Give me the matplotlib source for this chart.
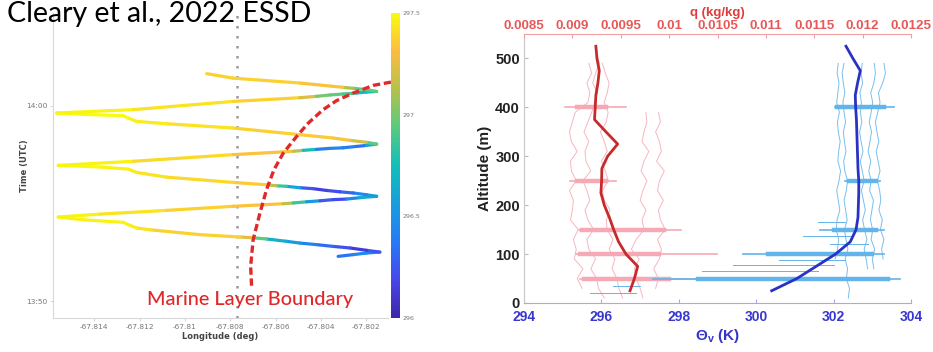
import numpy as np
import matplotlib
matplotlib.use('Agg')
import matplotlib.pyplot as plt
from matplotlib.collections import LineCollection
from matplotlib.colors import LinearSegmentedColormap

plt.rcParams['mathtext.fontset'] = 'custom'
plt.rcParams['mathtext.rm'] = 'Liberation Sans'
plt.rcParams['mathtext.bf'] = 'Liberation Sans:bold'
plt.rcParams['mathtext.it'] = 'Liberation Sans:italic'

# ---------------- left panel: flight track (lon vs time, coloured by temperature) ----------------
track_lon = [-67.80324, -67.80257, -67.80199, -67.80140, -67.80199, -67.80272, -67.80346, -67.80419,
             -67.80493, -67.80552, -67.80640, -67.80699, -67.80757, -67.80934, -67.81154, -67.81213,
             -67.81250, -67.81272, -67.81449, -67.81559,
             -67.81375, -67.81081, -67.80787, -67.80566, -67.80522, -67.80463, -67.80404, -67.80346,
             -67.80287, -67.80228, -67.80154,
             -67.80199, -67.80257, -67.80316, -67.80375, -67.80434, -67.80493, -67.80552, -67.80596,
             -67.80640, -67.80787, -67.81081, -67.81213, -67.81250, -67.81375, -67.81559,
             -67.81228, -67.80787, -67.80522, -67.80478, -67.80419, -67.80360, -67.80302, -67.80243,
             -67.80199, -67.80154,
             -67.80199, -67.80272, -67.80346, -67.80493, -67.80787, -67.81081, -67.81213, -67.81250,
             -67.81272, -67.81449, -67.81566,
             -67.81228, -67.80787, -67.80493, -67.80419, -67.80360, -67.80302, -67.80243, -67.80199,
             -67.80154,
             -67.80199, -67.80257, -67.80302, -67.80493, -67.80787, -67.80904]
# minutes after 13:00
track_time = [52.30, 52.39, 52.47, 52.52, 52.61, 52.73, 52.81, 52.90,
              52.98, 53.07, 53.19, 53.25, 53.29, 53.41, 53.66, 53.75,
              53.92, 54.04, 54.17, 54.31,
              54.46, 54.65, 54.86, 54.99, 55.03, 55.09, 55.14, 55.20,
              55.23, 55.30, 55.37,
              55.45, 55.54, 55.60, 55.67, 55.76, 55.81, 55.88, 55.91,
              55.96, 56.08, 56.35, 56.59, 56.76, 56.87, 56.95,
              57.16, 57.50, 57.67, 57.72, 57.77, 57.82, 57.85, 57.92,
              57.97, 58.04,
              58.13, 58.23, 58.35, 58.52, 58.86, 59.08, 59.20, 59.37,
              59.49, 59.56, 59.63,
              59.80, 60.22, 60.41, 60.48, 60.55, 60.60, 60.65, 60.70,
              60.73,
              60.82, 60.89, 60.94, 61.16, 61.41, 61.64]
track_temp = [296.4, 296.3, 296.6, 296.3, 296.2, 296.05, 296.4, 296.25,
              296.6, 296.5, 296.8, 297.1, 297.4, 297.35, 297.4, 297.45,
              297.45, 297.5, 297.45, 297.5,
              297.45, 297.4, 297.35, 297.3, 297.0, 296.7, 296.4, 296.1,
              296.3, 296.6, 296.7,
              296.4, 296.5, 296.1, 296.3, 296.0, 296.5, 296.7, 297.0,
              297.3, 297.4, 297.4, 297.45, 297.45, 297.5, 297.5,
              297.45, 297.35, 297.3, 297.0, 296.5, 296.3, 296.6, 296.2,
              296.5, 296.8,
              297.1, 297.3, 297.35, 297.35, 297.4, 297.45, 297.45, 297.5,
              297.5, 297.5, 297.5,
              297.45, 297.4, 297.35, 297.1, 296.9, 297.0, 296.8, 296.6,
              296.9,
              297.0, 296.9, 297.3, 297.35, 297.4, 297.35]

boundary_lon = [-67.80706, -67.80710, -67.80699, -67.80669, -67.80640, -67.80607, -67.80566,
                -67.80507, -67.80456, -67.80390, -67.80331, -67.80257, -67.80169, -67.80052]
boundary_time = [50.80, 51.79, 53.15, 54.51, 55.71, 56.73, 57.58,
                 58.43, 59.11, 59.80, 60.26, 60.65, 61.04, 61.29]
divider_lon = -67.8077

lon_ticks = [-67.814, -67.812, -67.810, -67.808, -67.806, -67.804, -67.802]
lon_labels = ['-67.814', '-67.812', '-67.81', '-67.808', '-67.806', '-67.804', '-67.802']
time_ticks = [50, 60]
time_labels = ['13:50', '14:00']
cbar_ticks = [296, 296.5, 297, 297.5]
cbar_labels = ['296', '296.5', '297', '297.5']

# ---------------- right panel: profiles ----------------
mean_alt = [25, 50, 75, 100, 125, 150, 175, 200, 225, 250, 275, 300, 325, 350, 375, 400, 425, 450, 475, 500, 525]
mean_q = [0.009596, 0.009641, 0.009675, 0.009554, 0.009478, 0.009427, 0.009382, 0.009330, 0.009295, 0.009302,
          0.009305, 0.009364, 0.009468, 0.009347, 0.009229, 0.009236, 0.009243, 0.009264, 0.009278, 0.009254, 0.009243]
mean_theta = [300.40, 301.05, 301.55, 302.05, 302.43, 302.58, 302.63, 302.64, 302.65, 302.65, 302.63,
              302.62, 302.61, 302.60, 302.59, 302.57, 302.56, 302.62, 302.69, 302.50, 302.32]

nan = np.nan
raw_alt = [10, 30, 50, 70, 90, 110, 130, 150, 170, 190, 210, 230, 250,
           270, 290, 310, 330, 350, 370, 390, 410, 430, 450, 470, 490, 510]
# specific humidity of single flights, g/kg
pink_a = [nan, 9.10, 9.05, 9.11, 9.02, 9.04, 9.01, 9.06, 8.98, 9.00, 9.01, 8.97, 9.04,
          8.99, 8.98, 9.05, 8.99, 8.97, 9.00, 9.03, 9.16, 9.18, 9.15, 9.20, 9.17, nan]
pink_b = [9.33, 9.27, 9.25, 9.19, 9.24, 9.17, 9.15, 9.22, 9.16, 9.13, 9.18, 9.15, 9.11,
          9.19, 9.14, 9.13, 9.17, 9.12, 9.16, 9.20, 9.23, 9.26, 9.21, 9.24, 9.28, 9.25]
pink_c = [9.52, 9.48, 9.46, 9.41, 9.44, 9.38, 9.42, 9.36, 9.35, 9.39, 9.33, 9.31, 9.37,
          9.34, 9.30, 9.36, 9.33, 9.29, 9.35, 9.37, 9.33, 9.36, 9.38, 9.34, 9.31, nan]
pink_d = [9.73, 9.70, 9.66, 9.64, 9.69, 9.61, 9.66, 9.74, 9.72, 9.76, 9.70, 9.73, 9.77,
          9.71, 9.74, 9.79, 9.72, 9.74, 9.77, 9.76, nan, nan, nan, nan, nan, nan]
pink_e = [nan, 9.86, 9.89, 9.84, 9.90, 9.92, 9.88, 9.96, 9.91, 9.89, 9.94, 9.88, 9.90,
          9.95, 9.87, 9.92, 9.90, 9.86, 9.91, 9.89, nan, nan, nan, nan, nan, nan]
# virtual potential temperature of single flights, K
blue_a = [nan, nan, nan, nan, 302.04, 302.10, 302.13, 302.07, 302.09, 302.16, 302.12, 302.08, 302.14,
          302.18, 302.11, 302.13, 302.17, 302.12, 302.10, 302.15, 302.08, 302.11, 302.14, 302.09, 302.12, nan]
blue_b = [302.38, 302.41, 302.33, 302.36, 302.30, 302.37, 302.32, 302.28, 302.35, 302.31, 302.27, 302.33, 302.36,
          302.29, 302.26, 302.32, 302.28, 302.25, 302.31, 302.27, 302.24, 302.29, 302.25, 302.22, 302.27, nan]
blue_c = [nan, nan, nan, 302.88, 302.84, 302.79, 302.86, 302.80, 302.75, 302.82, 302.77, 302.72, 302.79,
          302.74, 302.69, 302.76, 302.71, 302.67, 302.73, 302.69, 302.72, 302.68, 302.75, 302.71, 302.74, nan]
blue_d = [nan, nan, nan, 303.04, 303.00, 303.06, 302.97, 303.01, 302.95, 302.99, 303.03, 302.93, 302.97,
          302.91, 302.96, 302.89, 302.94, 302.98, 302.92, 302.97, 303.01, 302.96, 303.04, 303.08, 303.05, nan]
blue_e = [nan, nan, nan, nan, 303.28, 303.24, 303.30, 303.21, 303.26, 303.17, 303.22, 303.19, 303.13,
          303.20, 303.15, 303.10, 303.17, 303.12, 303.08, 303.14, 303.20, 303.16, 303.27, 303.34, 303.30, nan]

# hovering levels: full spread and dense core
hover_alt = [50, 100, 150, 250, 400]
pink_hover_lo = [9.08, 9.04, 9.07, 8.98, 8.92]
pink_hover_hi = [10.63, 10.49, 10.12, 9.45, 9.55]
pink_core_lo = [9.12, 9.08, 9.10, 9.05, 9.05]
pink_core_hi = [10.00, 9.90, 9.95, 9.35, 9.35]
blue_hover_lo = [297.33, 299.66, 301.65, 302.30, 302.04]
blue_hover_hi = [303.72, 303.29, 303.29, 303.20, 303.55]
blue_core_lo = [298.5, 300.3, 302.0, 302.4, 302.1]
blue_core_hi = [303.4, 303.0, 303.1, 303.1, 303.3]
# loose low-level strands
blue_strand_alt = [20, 35, 65, 78, 88, 120, 138, 165]
blue_strand_lo = [295.7, 296.3, 298.6, 299.4, 300.6, 301.9, 301.2, 301.6]
blue_strand_hi = [296.9, 297.0, 301.6, 302.0, 302.3, 302.9, 302.5, 302.3]

theta_ticks = [294, 296, 298, 300, 302, 304]
alt_ticks = [0, 100, 200, 300, 400, 500]
q_ticks = [0.0085, 0.009, 0.0095, 0.01, 0.0105, 0.011, 0.0115, 0.012, 0.0125]
q_labels = ['0.0085', '0.009', '0.0095', '0.01', '0.0105', '0.011', '0.0115', '0.012', '0.0125']

# parula-like colormap
parula = LinearSegmentedColormap.from_list('parula', [
    (0.000, (0.2422, 0.1504, 0.6603)),
    (0.125, (0.2803, 0.2782, 0.9221)),
    (0.250, (0.1500, 0.4800, 0.9700)),
    (0.375, (0.0900, 0.6200, 0.8600)),
    (0.500, (0.0704, 0.7457, 0.7258)),
    (0.625, (0.3440, 0.7922, 0.5055)),
    (0.750, (0.7084, 0.7556, 0.2998)),
    (0.875, (0.9856, 0.7372, 0.2537)),
    (1.000, (0.9763, 0.9831, 0.0538))])

fig = plt.figure(figsize=(9.33, 3.52), dpi=100)
W, H = 933, 352

# ---- left panel ----
ax1 = fig.add_axes([53 / W, 34 / H, 335 / W, 305 / H])
ax1.set_xlim(-67.81582, -67.80104)
ax1.set_ylim(49.15, 64.74)

pts = np.column_stack([track_lon, track_time])
segs = np.stack([pts[:-1], pts[1:]], axis=1)
temp = np.array(track_temp)
lc = LineCollection(segs, cmap=parula, linewidths=2.3, capstyle='round', joinstyle='round')
lc.set_array((temp[:-1] + temp[1:]) / 2)
lc.set_clim(296, 297.5)
ax1.add_collection(lc)

ax1.axvline(divider_lon, color='#9a9a9a', lw=1.8, ls=(0, (1, 3)), zorder=1)
ax1.plot(boundary_lon, boundary_time, color='#e02a2a', lw=2.4, ls=(0, (2.2, 1.1)),
         clip_on=False, zorder=5)
ax1.text(0.2806, 0.0426, 'Marine Layer Boundary', transform=ax1.transAxes, color='#e0282a',
         fontsize=14.3, family='Lato', fontweight='medium', va='baseline', ha='left')

ax1.set_xticks(lon_ticks)
ax1.set_xticklabels(lon_labels)
ax1.set_yticks(time_ticks)
ax1.set_yticklabels(time_labels)
ax1.tick_params(labelsize=5.3, labelcolor='#777777', color='#cccccc', length=2, width=0.6, pad=2)
for s in ['top', 'right']:
    ax1.spines[s].set_visible(False)
for s in ['left', 'bottom']:
    ax1.spines[s].set_color('#d8d8d8')
    ax1.spines[s].set_linewidth(0.8)
ax1.set_xlabel('Longitude (deg)', fontsize=6, fontweight='bold', color='#444444', va='top')
ax1.xaxis.set_label_coords(0.5, -0.046)
ax1.set_ylabel('Time (UTC)', fontsize=6, fontweight='bold', color='#444444')
ax1.yaxis.set_label_coords(-0.072, 0.5)

cax = fig.add_axes([391 / W, 34 / H, 9 / W, 305 / H])
cb = fig.colorbar(lc, cax=cax, ticks=cbar_ticks)
cb.set_ticklabels(cbar_labels)
cb.outline.set_visible(False)
cax.tick_params(labelsize=4.5, labelcolor='#777777', length=0, pad=2)

fig.text(7 / W, 1 - 22 / H, 'Cleary et al., 2022 ESSD', fontsize=20.5, family='Lato',
         color='black', va='baseline', ha='left')

# ---- right panel ----
ax = fig.add_axes([524 / W, 49 / H, 387 / W, 269 / H])
ax.set_xlim(294, 304)
ax.set_ylim(0, 550)
axq = ax.twiny()
axq.set_xlim(0.0085, 0.0125)
tq = axq.transData

pink = '#f6a9b4'
lblue = '#62b4ea'
for prof in [pink_a, pink_b, pink_c, pink_d, pink_e]:
    ax.plot(np.array(prof) / 1000, raw_alt, color=pink, lw=0.7, alpha=0.85, transform=tq, zorder=2)
for i, a in enumerate(hover_alt):
    ax.plot([pink_hover_lo[i] / 1000, pink_hover_hi[i] / 1000], [a, a], color=pink, lw=1.2,
            transform=tq, zorder=2)
    ax.plot([pink_core_lo[i] / 1000, pink_core_hi[i] / 1000], [a, a], color=pink, lw=3.2,
            transform=tq, zorder=2)

for prof in [blue_a, blue_b, blue_c, blue_d, blue_e]:
    ax.plot(prof, raw_alt, color=lblue, lw=0.7, alpha=0.85, zorder=3)
for i, a in enumerate(hover_alt):
    ax.plot([blue_hover_lo[i], blue_hover_hi[i]], [a, a], color=lblue, lw=1.2, zorder=3)
    ax.plot([blue_core_lo[i], blue_core_hi[i]], [a, a], color=lblue, lw=3.2, zorder=3)
for i, a in enumerate(blue_strand_alt):
    ax.plot([blue_strand_lo[i], blue_strand_hi[i]], [a, a], color=lblue, lw=0.7, zorder=3)

ax.plot(mean_q, mean_alt, color='#c62a2a', lw=2, transform=tq, zorder=5)
ax.plot(mean_theta, mean_alt, color='#2a32c4', lw=2, zorder=5)

ax.set_xticks(theta_ticks)
ax.set_xticklabels([str(t) for t in theta_ticks], fontweight='bold')
ax.set_yticks(alt_ticks)
ax.set_yticklabels([str(t) for t in alt_ticks], fontweight='bold')
axq.set_xticks(q_ticks)
axq.set_xticklabels(q_labels, fontweight='bold')

ax.tick_params(axis='x', direction='in', length=3, color='#a8a8f0', labelcolor='#3838d0',
               labelsize=10, pad=5, labelfontfamily='Liberation Sans')
ax.tick_params(axis='y', direction='in', length=3, color='#bbbbbb', labelcolor='#222222',
               labelsize=10.5, pad=3, labelfontfamily='Liberation Sans')
axq.tick_params(axis='x', direction='in', length=3, color='#f2a0a0', labelcolor='#e85858',
                labelsize=9.6, pad=1.5, labelfontfamily='Liberation Sans')

for s in ['top', 'right']:
    ax.spines[s].set_visible(False)
for s in ['left', 'right', 'bottom']:
    axq.spines[s].set_visible(False)
ax.spines['left'].set_color('#c8c8c8')
ax.spines['bottom'].set_color('#a8a8f0')
axq.spines['top'].set_color('#f2a0a0')

ax.set_ylabel('Altitude (m)', fontsize=11, fontweight='bold', color='#222222', family='Liberation Sans')
ax.yaxis.set_label_coords(-0.083, 0.5)
ax.set_xlabel(r'$\mathbf{\Theta_v}$ (K)', fontsize=11, fontweight='bold', color='#3535cc',
              family='Liberation Sans')
ax.xaxis.set_label_coords(0.5, -0.09)
axq.set_xlabel('q (kg/kg)', fontsize=9.5, fontweight='bold', color='#e03c3c', family='Liberation Sans')
axq.xaxis.set_label_coords(0.5, 1.066)

fig.savefig('out.png', dpi=100)
